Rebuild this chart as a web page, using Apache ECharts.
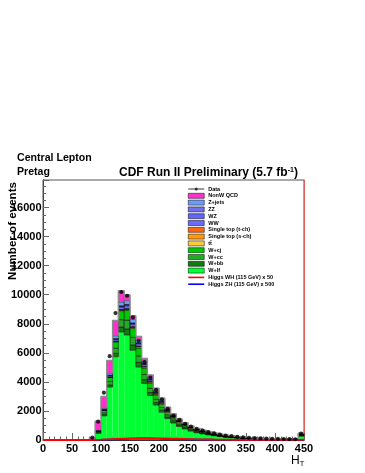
<!DOCTYPE html>
<html><head><meta charset="utf-8">
<script src="https://cdn.jsdelivr.net/npm/echarts@6/dist/echarts.min.js"></script>
<style>html,body{margin:0;padding:0;background:#fff}#c{width:365px;height:473px}</style>
</head><body><div id="c"></div>
<script>
// ---- data (H_T bins of width 10, low edges) ----
const binLow = [80,90,100,110,120,130,140,150,160,170,180,190,200,210,220,230,240,250,260,270,280,290,300,310,320,330,340,350,360,370,380,390,400,410,420,430,440];
const dataObs = [170,1260,3260,5770,8740,10190,9930,8440,6830,5360,4300,3450,2800,2140,1680,1380,1120,930,760,640,540,450,370,300,260,220,180,150,130,110,95,85,75,65,58,50,440];
const wlf  = [38,462,1658,3636,5729,7435,7226,6178,5017,3886,3053,2400,1909,1472,1166,926,752,606,495,417,347,292,237,197,166,139,116,97,82,72,63,55,47,41,37,33,268];
const wbb  = [4,40,90,160,240,350,420,370,330,270,220,175,145,115,92,75,62,50,42,36,30,25,21,18,15,12,10,9,7,6,5,4,4,3,3,3,24];
const wcc  = [6,55,120,230,350,500,600,520,450,360,290,230,185,145,115,92,75,61,50,43,36,30,25,21,18,15,12,10,9,7,6,5,5,4,4,3,28];
const wcj  = [8,70,160,290,440,620,700,620,540,430,340,270,215,170,135,108,88,72,59,50,42,35,29,24,20,17,14,12,10,9,8,7,6,5,5,4,33];
const ttbar= [0,3,8,15,25,45,60,75,85,90,92,92,90,85,80,74,68,60,54,48,42,37,32,28,24,21,18,15,13,11,10,9,8,7,6,6,60];
const stS  = [0,1,2,4,6,10,12,12,12,11,10,9,8,7,6,5,4,4,3,3,2,2,2,1,1,1,1,1,1,0,0,0,0,0,0,0,2];
const stT  = [0,2,6,10,15,25,30,30,30,28,25,22,20,17,15,13,11,10,8,7,6,5,4,4,3,3,2,2,2,1,1,1,1,1,1,0,5];
const ww   = [1,15,45,80,120,180,200,180,160,130,105,85,68,55,44,36,30,24,20,17,14,12,10,8,7,6,5,4,4,3,3,2,2,2,1,1,11];
const wz   = [0,5,15,25,40,55,60,55,48,40,33,27,22,18,14,12,10,8,7,6,5,4,4,3,3,2,2,2,1,1,1,1,1,1,0,0,4];
const zz   = [0,2,6,10,15,20,22,20,18,15,12,10,8,6,5,4,3,3,2,2,2,1,1,1,1,1,0,0,0,0,0,0,0,0,0,0,1];
const zjets= [3,25,80,140,200,260,270,240,210,170,140,110,90,70,56,45,37,30,25,21,18,15,12,10,9,7,6,5,4,4,3,3,2,2,2,2,14];
const qcd  = [90,620,800,870,1050,780,380,260,230,190,160,130,110,90,72,60,50,42,35,30,26,22,18,15,13,11,9,8,7,6,5,5,4,4,3,3,20];
// Higgs signals (full range 0-450, low edges every 10)
const higgsLow = [0,10,20,30,40,50,60,70,80,90,100,110,120,130,140,150,160,170,180,190,200,210,220,230,240,250,260,270,280,290,300,310,320,330,340,350,360,370,380,390,400,410,420,430,440];
const higgsWH = [0,0,0,0,0,0,0,0,5,20,40,60,80,100,115,125,130,130,125,115,105,95,85,75,65,55,47,40,34,29,25,21,18,15,13,11,9,8,7,6,5,4,4,3,20];
const higgsZH = [0,0,0,0,0,0,0,0,3,12,28,42,58,72,82,90,94,94,90,84,76,68,60,53,46,40,34,29,25,21,18,15,13,11,9,8,7,6,5,4,4,3,3,2,14];
const yTicks = [0,2000,4000,6000,8000,10000,12000,14000,16000];
const xTicks = [0,50,100,150,200,250,300,350,400,450];

const BW = 10;
const stackDefs = [
  {name:'W+lf', vals:wlf, color:'#00ff33', stroke:null},
  {name:'W+bb', vals:wbb, color:'#117a11', stroke:'#000'},
  {name:'W+cc', vals:wcc, color:'#22aa22', stroke:'#000'},
  {name:'W+cj', vals:wcj, color:'#00c800', stroke:'#000'},
  {name:'tt\u0304', vals:ttbar, color:'#ffcc33', stroke:'#000'},
  {name:'Single top (s-ch)', vals:stS, color:'#ff9911', stroke:'#000'},
  {name:'Single top (t-ch)', vals:stT, color:'#ff6611', stroke:'#000'},
  {name:'WW', vals:ww, color:'#6a6aff', stroke:'#000'},
  {name:'WZ', vals:wz, color:'#6464f6', stroke:'#000'},
  {name:'ZZ', vals:zz, color:'#7070ee', stroke:'#000'},
  {name:'Z+jets', vals:zjets, color:'#6d9cf8', stroke:'#000'},
  {name:'NonW QCD', vals:qcd, color:'#ff33cc', stroke:'#666'}
];

const base = binLow.map(() => 0);
const series = [];
stackDefs.forEach(def => {
  const items = binLow.map((lo, i) => {
    const b = base[i];
    const t = b + def.vals[i];
    base[i] = t;
    return [lo, lo + BW, b, t];
  });
  series.push({
    name: def.name, type: 'custom', z: 2,
    itemStyle: {color: def.color},
    encode: {x: [0,1], y: [2,3]},
    data: items,
    renderItem: function (params, api) {
      const lo = api.value(0), hi = api.value(1), b = api.value(2), t = api.value(3);
      if (t <= b) return null;
      const p1 = api.coord([lo, t]), p2 = api.coord([hi, b]);
      return {type:'rect', shape:{x:p1[0], y:p1[1], width:p2[0]-p1[0], height:p2[1]-p1[1]},
        style:{fill:def.color, stroke:def.stroke || null, lineWidth: def.stroke ? 0.5 : 0}};
    }
  });
});
// total MC outline (gray)
const outline = [[binLow[0]-BW, 0]].concat(binLow.map((lo,i) => [lo, base[i]])).concat([[450, base[base.length-1]]]);
series.push({name:'MCtotal', type:'line', step:'end', data: outline, symbol:'none', z:3,
  lineStyle:{color:'#8c8c8c', width:1.4}, silent:true});
// Higgs
function stepData(vals){ return higgsLow.map((lo,i)=>[lo, vals[i]]).concat([[450, vals[vals.length-1]]]); }
series.push({name:'Higgs ZH (115 GeV) x 500', type:'line', step:'end', data: stepData(higgsZH), symbol:'none', z:4,
  itemStyle:{color:'#0000ff'}, lineStyle:{color:'#0000ff', width:1.6}});
series.push({name:'Higgs WH (115 GeV) x 50', type:'line', step:'end', data: stepData(higgsWH), symbol:'none', z:5,
  itemStyle:{color:'#ff0000'}, lineStyle:{color:'#ff0000', width:1.8}});
// data points
series.push({name:'Data', type:'scatter', z:6, symbol:'circle', symbolSize:4.2,
  itemStyle:{color:'#000'}, data: binLow.map((lo,i)=>[lo + BW/2, dataObs[i]])});

const lineIcon = 'path://M0,0 L40,0 L40,4 L0,4 Z';
const legendData = [
  {name:'Data', icon:'path://M0,9 L40,9 L40,11 L0,11 Z M20,6 A4,4 0 1 1 20,14 A4,4 0 1 1 20,6 Z', itemStyle:{color:'#000', borderWidth:0}},
  'NonW QCD','Z+jets','ZZ','WZ','WW','Single top (t-ch)','Single top (s-ch)','tt\u0304','W+cj','W+cc','W+bb','W+lf',
  {name:'Higgs WH (115 GeV) x 50', icon:lineIcon, itemStyle:{color:'#ff0000', borderWidth:0}},
  {name:'Higgs ZH (115 GeV) x 500', icon:lineIcon, itemStyle:{color:'#0000ff', borderWidth:0}}
].map(d => typeof d === 'string' ? {name:d, icon:'rect'} : d);

const chart = echarts.init(document.getElementById('c'), null, {renderer:'canvas'});
chart.setOption({
  animation:false,
  backgroundColor:'#fff',
  textStyle:{fontFamily:'Liberation Sans, Arial, sans-serif'},
  grid:{left:43, right:61, top:180, bottom:33, show:true, borderColor:'#555', borderWidth:1, backgroundColor:'transparent'},
  title:{
    text:'CDF Run II Preliminary (5.7 fb{sup|-1})', left:114, top:161.5,
    textStyle:{fontSize:12, fontWeight:'bold', color:'#000', fontFamily:'Liberation Sans, Arial, sans-serif',
      rich:{sup:{fontSize:7, fontWeight:'bold', verticalAlign:'top', padding:[0,0,6,0], color:'#000'}}}
  },
  legend:{
    orient:'vertical', left:183, top:181, itemWidth:16, itemHeight:5, itemGap:0.8,
    data: legendData, selectedMode:false,
    itemStyle:{borderColor:'#000', borderWidth:0.5},
    textStyle:{fontSize:5.5, fontWeight:'bold', color:'#000', lineHeight:5, padding:[0,0,0,-1]}
  },
  xAxis:{type:'value', min:0, max:450, interval:50,
    axisLine:{show:true, lineStyle:{color:'#333'}},
    axisTick:{show:true, inside:true, length:7, lineStyle:{color:'#666'}},
    minorTick:{show:true, splitNumber:5, length:3.5, lineStyle:{color:'#666'}},
    splitLine:{show:false},
    axisLabel:{fontSize:11, fontWeight:'bold', color:'#000', margin:3, formatter: v => xTicks.includes(v) ? String(v) : ''}
  },
  yAxis:[{type:'value', min:0, max:17900, interval:2000,
    axisLine:{show:true, lineStyle:{color:'#444'}},
    axisTick:{show:true, inside:true, length:6, lineStyle:{color:'#666'}},
    minorTick:{show:true, splitNumber:4, length:3, lineStyle:{color:'#666'}},
    splitLine:{show:false},
    axisLabel:{fontSize:11, fontWeight:'bold', color:'#000', margin:1.5, showMaxLabel:false,
      formatter: v => yTicks.includes(v) ? String(v) : ''}
  },{type:'value', min:0, max:17900, interval:2000, position:'right',
    axisLine:{show:true, lineStyle:{color:'#e06060', width:1}}, axisTick:{show:false}, axisLabel:{show:false}, splitLine:{show:false}
  }],
  graphic:[
    {type:'text', left:17, top:152.5, style:{text:'Central Lepton', fontSize:10.6, fontWeight:'bold', fill:'#000', fontFamily:'Liberation Sans, Arial, sans-serif'}},
    {type:'text', left:17, top:166.5, style:{text:'Pretag', fontSize:10.6, fontWeight:'bold', fill:'#000', fontFamily:'Liberation Sans, Arial, sans-serif'}},
    {type:'text', x:13, y:182, rotation:Math.PI/2, style:{text:'Number of events', fontSize:11.6, fontWeight:'bold', fill:'#000', align:'right', verticalAlign:'middle', fontFamily:'Liberation Sans, Arial, sans-serif'}},
    {type:'text', x:291, y:454, style:{text:'H{s|T}', fontSize:12, fill:'#000', fontFamily:'Liberation Sans, Arial, sans-serif', rich:{s:{fontSize:7.5, verticalAlign:'bottom', padding:[6,0,0,0], fill:'#000'}}}}
  ],
  series: series
});
</script></body></html>
